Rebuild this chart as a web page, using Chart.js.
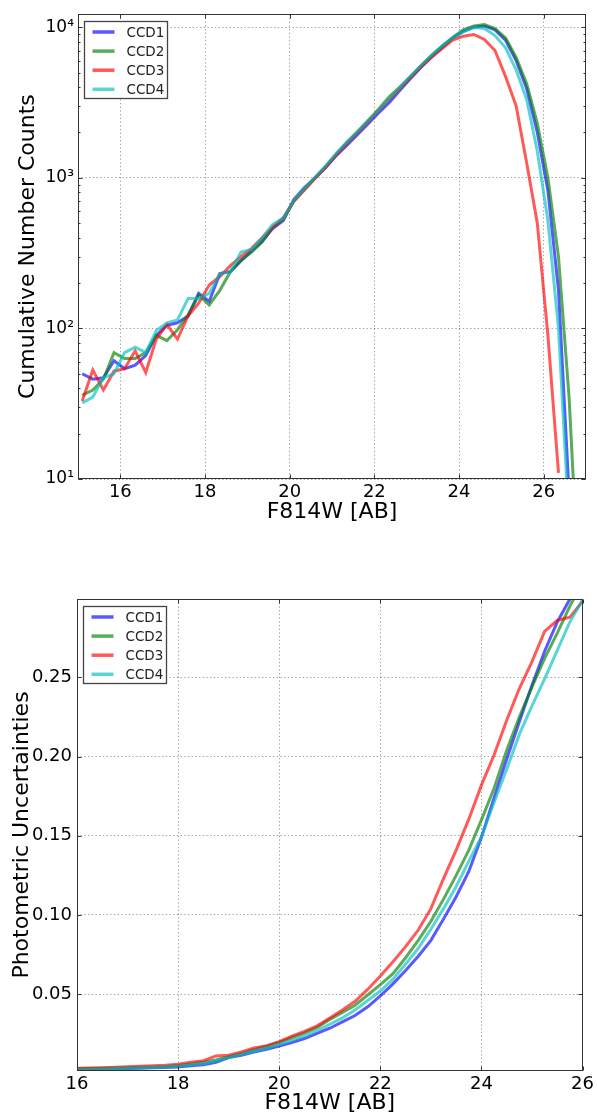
<!DOCTYPE html>
<html>
<head>
<meta charset="utf-8">
<script src="https://cdn.jsdelivr.net/npm/chart.js@4.4.1/dist/chart.umd.min.js"></script>
<style>
  html, body { margin: 0; padding: 0; background: #fff; }
  body { width: 597px; height: 1118px; position: relative; overflow: hidden; }
  .box { position: absolute; left: 0; width: 597px; }
  #topBox { top: 0; height: 530px; }
  #botBox { top: 580px; height: 538px; }
</style>
</head>
<body>
<div class="box" id="topBox"><canvas id="countChart"></canvas></div>
<div class="box" id="botBox"><canvas id="errChart"></canvas></div>
<script>
// ---- data: number counts (top panel) ----
const countMags = [15.1, 15.35, 15.6, 15.85, 16.1, 16.35, 16.6, 16.85, 17.1, 17.35, 17.6, 17.85,
  18.1, 18.35, 18.6, 18.85, 19.1, 19.35, 19.6, 19.85, 20.1, 20.35, 20.6, 20.85, 21.1, 21.35,
  21.6, 21.85, 22.1, 22.35, 22.6, 22.85, 23.1, 23.35, 23.6, 23.85, 24.1, 24.35, 24.6, 24.85,
  25.1, 25.35, 25.6, 25.85, 26.1, 26.35, 26.6, 26.85];
const countCCD1 = [50, 46, 47, 61, 54, 57, 66, 90, 105, 109, 121, 171, 151, 231, 238, 282, 327, 380,
  460, 520, 720, 860, 1000, 1170, 1400, 1640, 1930, 2280, 2700, 3150, 3800, 4550, 5400, 6350, 7350,
  8450, 9400, 10000, 10200, 9600, 8200, 6000, 3900, 2000, 820, 180, 8, 0.3];
const countCCD2 = [36, 39, 46, 69, 63, 63, 69, 90, 83, 98, 123, 166, 143, 179, 238, 282, 321, 375,
  470, 530, 700, 840, 1000, 1190, 1440, 1720, 2020, 2400, 2850, 3450, 4000, 4700, 5550, 6500, 7500,
  8550, 9600, 10200, 10400, 9800, 8500, 6300, 4200, 2300, 1000, 300, 35, 1.5];
const countCCD3 = [33, 53, 39, 52, 54, 71, 51, 85, 106, 85, 121, 147, 194, 221, 261, 300, 340, 400,
  470, 545, 700, 830, 990, 1170, 1420, 1690, 1990, 2350, 2800, 3300, 3900, 4600, 5450, 6300, 7200,
  8200, 8700, 8950, 8300, 7000, 4700, 3000, 1250, 500, 90, 11, null, null];
const countCCD4 = [32, 35, 47, 50, 69, 75, 69, 97, 109, 114, 158, 158, 171, 231, 238, 321, 335, 400,
  490, 540, 710, 850, 1010, 1200, 1450, 1720, 2020, 2380, 2820, 3350, 3950, 4700, 5550, 6500, 7500,
  8500, 9300, 9950, 9800, 8800, 7300, 5200, 3300, 1500, 520, 100, 5, 0.2];

// ---- data: photometric uncertainties (bottom panel) ----
const errMags = [16, 16.25, 16.5, 16.75, 17, 17.25, 17.5, 17.75, 18, 18.25, 18.5, 18.75, 19, 19.25,
  19.5, 19.75, 20, 20.25, 20.5, 20.75, 21, 21.25, 21.5, 21.75, 22, 22.25, 22.5, 22.75, 23, 23.25,
  23.5, 23.75, 24, 24.25, 24.5, 24.75, 25, 25.25, 25.5, 25.75, 26];
const errCCD1 = [0.0025, 0.0026, 0.0028, 0.0029, 0.0031, 0.0033, 0.0035, 0.0037, 0.0040, 0.0048,
  0.0055, 0.0070, 0.0100, 0.0115, 0.0135, 0.0152, 0.0172, 0.0195, 0.0220, 0.0252, 0.0285, 0.0325,
  0.0365, 0.0420, 0.0490, 0.0565, 0.0650, 0.0740, 0.0840, 0.0975, 0.1115, 0.1275, 0.1490, 0.1740,
  0.1985, 0.2220, 0.2450, 0.2665, 0.2850, 0.2995, 0.3150];
const errCCD2 = [0.0030, 0.0031, 0.0033, 0.0034, 0.0036, 0.0038, 0.0040, 0.0043, 0.0050, 0.0060,
  0.0070, 0.0085, 0.0105, 0.0125, 0.0150, 0.0170, 0.0195, 0.0225, 0.0255, 0.0290, 0.0340, 0.0385,
  0.0430, 0.0495, 0.0560, 0.0630, 0.0730, 0.0840, 0.0960, 0.1100, 0.1250, 0.1410, 0.1600, 0.1800,
  0.2040, 0.2250, 0.2440, 0.2620, 0.2780, 0.2950, 0.3100];
const errCCD3 = [0.0032, 0.0034, 0.0036, 0.0039, 0.0042, 0.0045, 0.0048, 0.0052, 0.0058, 0.0070,
  0.0080, 0.0110, 0.0115, 0.0135, 0.0160, 0.0175, 0.0200, 0.0235, 0.0265, 0.0300, 0.0350, 0.0400,
  0.0455, 0.0530, 0.0615, 0.0705, 0.0800, 0.0905, 0.1040, 0.1230, 0.1410, 0.1605, 0.1820, 0.2010,
  0.2230, 0.2430, 0.2600, 0.2790, 0.2860, 0.2880, 0.2980];
const errCCD4 = [0.0025, 0.0026, 0.0028, 0.0030, 0.0033, 0.0035, 0.0038, 0.0041, 0.0045, 0.0055,
  0.0062, 0.0080, 0.0100, 0.0120, 0.0140, 0.0160, 0.0184, 0.0208, 0.0235, 0.0270, 0.0310, 0.0350,
  0.0400, 0.0460, 0.0520, 0.0595, 0.0690, 0.0790, 0.0910, 0.1040, 0.1180, 0.1340, 0.1495, 0.1710,
  0.1920, 0.2140, 0.2320, 0.2490, 0.2670, 0.2850, 0.2990];

const ccdLabels = ['CCD1', 'CCD2', 'CCD3', 'CCD4'];
const ccdColors = ['rgba(0,0,255,0.65)', 'rgba(0,128,0,0.65)', 'rgba(255,0,0,0.65)', 'rgba(0,191,191,0.65)'];

// tick labels
const countTicksX = [16, 18, 20, 22, 24, 26];
const countTicksY = [10, 100, 1000, 10000];
const countTickText = {10: '10¹', 100: '10²', 1000: '10³', 10000: '10⁴'};
const errTicksX = [16, 18, 20, 22, 24, 26];
const errTicksY = [0.05, 0.10, 0.15, 0.20, 0.25];

Chart.defaults.font.family = "'DejaVu Sans', sans-serif";
Chart.defaults.color = '#000';

function makeSets(xs, series) {
    return series.map((ys, i) => ({
        label: ccdLabels[i],
        data: xs.map((x, j) => ({x: x, y: ys[j]})),
        borderColor: ccdColors[i],
        backgroundColor: ccdColors[i],
        borderWidth: 3,
        pointRadius: 0,
        tension: 0,
        spanGaps: false,
        clip: 0,
        order: 3 - i   // later CCDs drawn on top, like matplotlib
    }));
}

// frame, inward ticks and the boxed legend (matplotlib look)
const framePlugin = {
    id: 'frame',
    afterDatasetsDraw(chart, args, opts) {
        const {ctx, chartArea: a, scales} = chart;
        const L = Math.round(a.left) + 0.5, R = Math.round(a.right) - 0.5;
        const T = Math.round(a.top) + 0.5, B = Math.round(a.bottom) - 0.5;
        ctx.save();
        ctx.strokeStyle = '#333';
        ctx.lineWidth = 1;
        const seg = (x1, y1, x2, y2) => { ctx.beginPath(); ctx.moveTo(x1, y1); ctx.lineTo(x2, y2); ctx.stroke(); };
        scales.x.ticks.forEach(t => {
            const x = Math.round(scales.x.getPixelForValue(t.value)) + 0.5;
            seg(x, B, x, B - 4); seg(x, T, x, T + 4);
        });
        scales.y.ticks.forEach(t => {
            const y = Math.round(scales.y.getPixelForValue(t.value)) + 0.5;
            seg(L, y, L + 4, y); seg(R, y, R - 4, y);
        });
        (opts.minor || []).forEach(v => {
            const y = Math.round(scales.y.getPixelForValue(v)) + 0.5;
            if (y < T || y > B) return;
            seg(L, y, L + 2, y); seg(R, y, R - 2, y);
        });
        ctx.strokeRect(L, T, R - L, B - T);

        // legend box
        const bx = Math.round(a.left + 6) + 0.5, by = Math.round(a.top + 7) + 0.5;
        ctx.fillStyle = '#fff';
        ctx.fillRect(bx, by, 83, 77);
        ctx.strokeStyle = '#444';
        ctx.lineWidth = 1.3;
        ctx.strokeRect(bx, by, 83, 77);
        ctx.font = "13.5px 'DejaVu Sans'";
        ctx.textBaseline = 'middle';
        ctx.textAlign = 'left';
        chart.data.datasets.forEach((ds, i) => {
            const yy = by + 10.5 + i * 19.1;
            ctx.strokeStyle = ds.borderColor;
            ctx.lineWidth = 3.5;
            seg(bx + 8, yy, bx + 30, yy);
            ctx.fillStyle = '#222';
            ctx.fillText(ds.label, bx + 42, yy + 1);
        });
        ctx.restore();
    }
};

const gridStyle = {color: 'rgba(0,0,0,0.38)', lineWidth: 1, drawTicks: false};
const gridBorder = {display: false, dash: [1.3, 2.4]};

// minor ticks of the log axis
const countMinor = [];
[10, 100, 1000].forEach(d => { for (let k = 2; k <= 9; k++) countMinor.push(d * k); });

new Chart(document.getElementById('countChart').getContext('2d'), {
    type: 'line',
    data: {datasets: makeSets(countMags, [countCCD1, countCCD2, countCCD3, countCCD4])},
    plugins: [framePlugin],
    options: {
        responsive: true,
        maintainAspectRatio: false,
        animation: false,
        layout: {padding: {top: 6, right: 11, left: 0, bottom: 0}},
        plugins: {legend: {display: false}, tooltip: {enabled: false}, frame: {minor: countMinor}},
        scales: {
            x: {
                type: 'linear', min: 15, max: 27,
                afterBuildTicks: s => { s.ticks = countTicksX.map(v => ({value: v})); },
                afterFit: s => { s.height = 51; },
                grid: gridStyle, border: gridBorder,
                ticks: {font: {size: 18}, padding: 3, maxRotation: 0, autoSkip: false, callback: v => String(v)},
                title: {display: true, text: 'F814W [AB]', font: {size: 22}, padding: {top: 0, bottom: 5}}
            },
            y: {
                type: 'logarithmic', min: 10, max: 12200,
                afterBuildTicks: s => { s.ticks = countTicksY.map(v => ({value: v})); },
                afterFit: s => { s.width = 78; },
                grid: gridStyle, border: gridBorder,
                ticks: {font: {size: 17}, padding: 4, autoSkip: false, callback: v => countTickText[v] || ''},
                title: {display: true, text: 'Cumulative Number Counts', font: {size: 22}, padding: {top: 15, bottom: 0}}
            }
        }
    }
});

new Chart(document.getElementById('errChart').getContext('2d'), {
    type: 'line',
    data: {datasets: makeSets(errMags, [errCCD1, errCCD2, errCCD3, errCCD4])},
    plugins: [framePlugin],
    options: {
        responsive: true,
        maintainAspectRatio: false,
        animation: false,
        layout: {padding: {top: 19, right: 12, left: 0, bottom: 0}},
        plugins: {legend: {display: false}, tooltip: {enabled: false}, frame: {}},
        scales: {
            x: {
                type: 'linear', min: 16, max: 26,
                afterBuildTicks: s => { s.ticks = errTicksX.map(v => ({value: v})); },
                afterFit: s => { s.height = 47; },
                grid: gridStyle, border: gridBorder,
                ticks: {font: {size: 18}, padding: 3, maxRotation: 0, autoSkip: false, callback: v => String(v)},
                title: {display: true, text: 'F814W [AB]', font: {size: 22}, padding: {top: 0, bottom: 2}}
            },
            y: {
                type: 'linear', min: 0.0015, max: 0.2995,
                afterBuildTicks: s => { s.ticks = errTicksY.map(v => ({value: v})); },
                afterFit: s => { s.width = 77; },
                grid: gridStyle, border: gridBorder,
                ticks: {font: {size: 18}, padding: 5, autoSkip: false, callback: v => v.toFixed(2)},
                title: {display: true, text: 'Photometric Uncertainties', font: {size: 22}, padding: {top: 9, bottom: 0}}
            }
        }
    }
});
</script>
</body>
</html>
